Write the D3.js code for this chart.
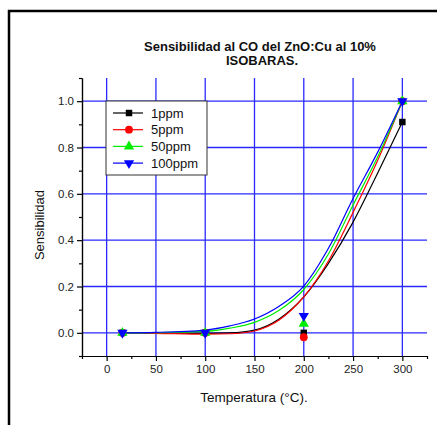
<!DOCTYPE html>
<html>
<head>
<meta charset="utf-8">
<script src="https://cdn.jsdelivr.net/npm/d3@7"></script>
<style>
  body { margin: 0; background: #fff; }
  text { font-family: "Liberation Sans", Arial, sans-serif; }
</style>
</head>
<body>
<svg id="chart" width="437" height="425"></svg>
<script>
var width = 437;
var height = 425;

// measured points
var temps = [16, 100, 200, 300];
var v1ppm = [0, 0, 0.0, 0.91];
var v5ppm = [0, 0, -0.019, 1.0];
var v50ppm = [0, 0, 0.039, 1.0];
var v100ppm = [0, 0, 0.073, 1.0];

// fitted curves
var fitTemps = [16, 50, 100, 125, 150, 175, 200, 225, 250, 275, 300];
var fit1ppm = [0, 0, -0.002, 0.0, 0.012, 0.06, 0.155, 0.3, 0.478, 0.69, 0.91];
var fit5ppm = [0, -0.002, -0.006, -0.004, 0.008, 0.055, 0.155, 0.31, 0.52, 0.745, 1.0];
var fit50ppm = [0, 0.001, 0.006, 0.02, 0.045, 0.097, 0.187, 0.34, 0.552, 0.76, 1.0];
var fit100ppm = [0, 0.002, 0.012, 0.03, 0.06, 0.115, 0.202, 0.365, 0.58, 0.78, 1.0];

var seriesNames = ["1ppm", "5ppm", "50ppm", "100ppm"];
var seriesColors = ["#000000", "#ff0000", "#00ee00", "#0000ff"];
var seriesSymbols = [d3.symbolSquare, d3.symbolCircle, d3.symbolTriangle, d3.symbolTriangle];

var xTicks = [0, 50, 100, 150, 200, 250, 300];
var yTicks = [0.0, 0.2, 0.4, 0.6, 0.8, 1.0];

var titleLines = ["Sensibilidad al CO del ZnO:Cu al 10%", "ISOBARAS."];

var svg = d3.select("#chart");

// outer frame
svg.append("rect")
  .attr("x", 9).attr("y", 11)
  .attr("width", 440).attr("height", 430)
  .attr("fill", "none").attr("stroke", "#000").attr("stroke-width", 2.5);

var plotLeft = 82, plotRight = 427, plotTop = 78, plotBottom = 356;

var x = d3.scaleLinear().domain([-25, 325]).range([plotLeft, plotRight]);
var y = d3.scaleLinear().domain([-0.1, 1.1]).range([plotBottom, plotTop]);

// grid
var grid = svg.append("g").attr("stroke", "#2a2aff").attr("stroke-width", 1.3);
grid.selectAll("line.v").data(xTicks).enter().append("line")
  .attr("x1", function(d) { return x(d); }).attr("x2", function(d) { return x(d); })
  .attr("y1", plotTop).attr("y2", plotBottom);
grid.selectAll("line.h").data(yTicks).enter().append("line")
  .attr("x1", plotLeft).attr("x2", plotRight)
  .attr("y1", function(d) { return y(d); }).attr("y2", function(d) { return y(d); });

// axes
svg.append("g").attr("transform", "translate(0," + plotBottom + ")")
  .call(d3.axisBottom(x).tickValues(xTicks).tickSize(5).tickSizeOuter(0).tickPadding(4));
svg.append("g").attr("transform", "translate(0," + plotBottom + ")")
  .call(d3.axisBottom(x).tickValues(d3.range(-25, 326, 50)).tickSize(3).tickSizeOuter(0).tickFormat(""));
svg.append("g").attr("transform", "translate(" + plotLeft + ",0)")
  .call(d3.axisLeft(y).tickValues(yTicks).tickSize(5).tickSizeOuter(0).tickPadding(3).tickFormat(d3.format(".1f")));
svg.append("g").attr("transform", "translate(" + plotLeft + ",0)")
  .call(d3.axisLeft(y).tickValues([-0.1, 0.1, 0.3, 0.5, 0.7, 0.9, 1.1]).tickSize(3).tickSizeOuter(0).tickFormat(""));

svg.selectAll(".domain").attr("stroke", "#000").attr("stroke-width", 1.2);
svg.selectAll(".tick line").attr("stroke", "#000").attr("stroke-width", 1.2);
svg.selectAll(".tick text").attr("font-size", 11.5).attr("fill", "#222")
  .attr("font-family", "Liberation Sans, Arial, sans-serif");

// curves
var fits = [fit1ppm, fit5ppm, fit50ppm, fit100ppm];
var pts = [v1ppm, v5ppm, v50ppm, v100ppm];
var line = d3.line().curve(d3.curveMonotoneX);

fits.forEach(function(f, i) {
  svg.append("path")
    .attr("d", line(fitTemps.map(function(t, j) { return [x(t), y(f[j])]; })))
    .attr("fill", "none").attr("stroke", seriesColors[i]).attr("stroke-width", 1.2);
});

function drawSymbol(g, i, cx, cy) {
  var sizes = [42, 48, 46, 46];
  g.append("path")
    .attr("d", d3.symbol().type(seriesSymbols[i]).size(sizes[i])())
    .attr("transform", "translate(" + cx + "," + cy + ")" + (i === 3 ? " rotate(180)" : ""))
    .attr("fill", seriesColors[i]);
}

pts.forEach(function(p, i) {
  temps.forEach(function(t, j) {
    drawSymbol(svg, i, x(t), y(p[j]));
  });
});

// legend
var lg = svg.append("g");
lg.append("rect").attr("x", 106).attr("y", 101).attr("width", 101).attr("height", 74)
  .attr("fill", "#fff").attr("stroke", "#333").attr("stroke-width", 1);
seriesNames.forEach(function(name, i) {
  var ly = 113 + i * 16.7;
  lg.append("line").attr("x1", 113).attr("x2", 143).attr("y1", ly).attr("y2", ly)
    .attr("stroke", seriesColors[i]).attr("stroke-width", 1.2);
  drawSymbol(lg, i, 129, ly);
  lg.append("text").attr("x", 151).attr("y", ly + 4.5).attr("font-size", 13)
    .attr("fill", "#111").text(name);
});

// titles
svg.selectAll("text.title").data(titleLines).enter().append("text")
  .attr("x", function(d, i) { return i === 0 ? 260 : 262; })
  .attr("y", function(d, i) { return 51 + i * 14; })
  .attr("text-anchor", "middle").attr("font-size", 13).attr("font-weight", "bold")
  .attr("fill", "#111").text(function(d) { return d; });

svg.append("text").attr("x", 254).attr("y", 402).attr("text-anchor", "middle")
  .attr("font-size", 13.5).attr("fill", "#111").text("Temperatura (°C).");

svg.append("text").attr("transform", "translate(44,225) rotate(-90)")
  .attr("text-anchor", "middle").attr("font-size", 13).attr("fill", "#111").text("Sensibilidad");
</script>
</body>
</html>
